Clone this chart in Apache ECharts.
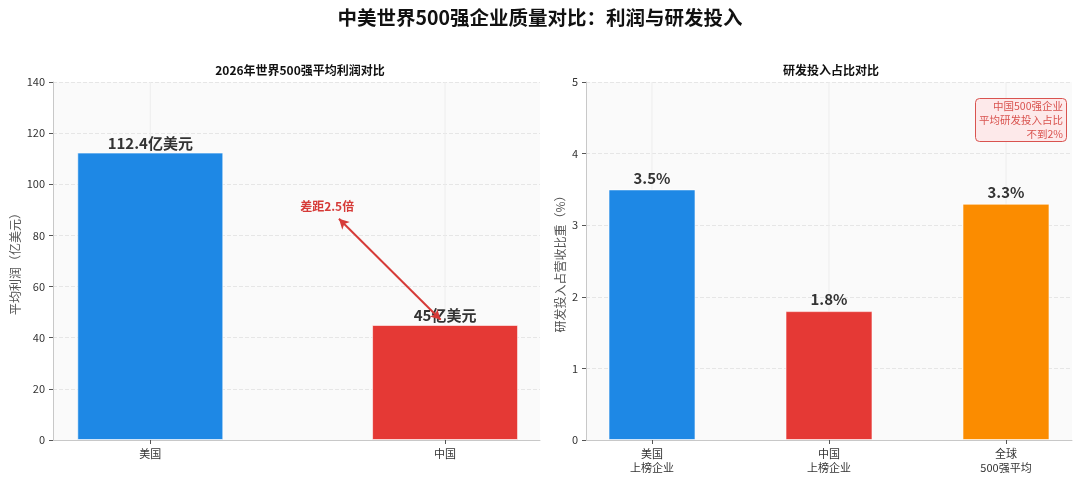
<!DOCTYPE html>
<html>
<head>
<meta charset="utf-8">
<script src="https://cdn.jsdelivr.net/npm/echarts@6/dist/echarts.min.js"></script>
<style>
  html, body { margin: 0; padding: 0; background: #fff; }
  #main { width: 1080px; height: 479px; }
</style>
</head>
<body>
<div id="main"></div>
<script>
// 左图：平均利润
const profitCats = ['美国', '中国'];
const profitVals = [112.4, 45];
const profitColors = ['#1E88E5', '#E53935'];
const profitTicks = [0, 20, 40, 60, 80, 100, 120, 140];

// 右图：研发投入占比
const rdCats = ['美国\n上榜企业', '中国\n上榜企业', '全球\n500强平均'];
const rdVals = [3.5, 1.8, 3.3];
const rdColors = ['#1E88E5', '#E53935', '#FB8C00'];
const rdTicks = [0, 1, 2, 3, 4, 5];

// 差距箭头 (数据坐标)
const gapArrow = [[0.985, 47], [0.64, 86.5]];
const gapText = '差距2.5倍';
const noteLines = ['中国500强企业', '平均研发投入占比', '不到2%'];

const FONT = '"Noto Sans CJK SC", "Noto Sans", sans-serif';
const chart = echarts.init(document.getElementById('main'));

function xAxisOf(idx, cats, min, max) {
  const pos = cats.map((c, i) => i);
  return {
    type: 'value', gridIndex: idx, min: min, max: max,
    axisLine: { show: true, onZero: false, lineStyle: { color: '#c8c8c8' } },
    axisTick: { show: true, customValues: pos, length: 4, lineStyle: { color: '#555' } },
    axisLabel: {
      customValues: pos, color: '#333', fontSize: 11, lineHeight: 14, margin: 7,
      formatter: v => cats[Math.round(v)] || ''
    },
    splitLine: { show: false }
  };
}

function yAxisOf(idx, ticks, name) {
  return {
    type: 'value', gridIndex: idx, min: 0, max: ticks[ticks.length - 1],
    interval: ticks[1] - ticks[0],
    name: name, nameLocation: 'middle', nameGap: idx === 0 ? 32 : 20,
    nameTextStyle: { color: '#555', fontSize: 12, fontFamily: FONT },
    axisLine: { show: true, onZero: false, lineStyle: { color: '#c8c8c8' } },
    axisTick: { show: true, length: 4, lineStyle: { color: '#555' } },
    axisLabel: { color: '#333', fontSize: 11, margin: 8 },
    splitLine: { show: true, lineStyle: { color: '#e6e6e6', type: 'dashed' } }
  };
}

// 竖向网格线（每个类别位置一条），放在柱子下面
function vLineSeries(idx, cats, top) {
  return {
    type: 'custom', xAxisIndex: idx, yAxisIndex: idx, silent: true, z: 1,
    data: cats.map((c, i) => [i, top]),
    renderItem: (params, api) => {
      const p0 = api.coord([api.value(0), 0]);
      const p1 = api.coord([api.value(0), api.value(1)]);
      return {
        type: 'line',
        shape: { x1: p0[0], y1: p0[1], x2: p1[0], y2: p1[1] },
        style: { stroke: '#ededed', lineWidth: 1 }
      };
    }
  };
}

chart.setOption({
  backgroundColor: '#fff',
  textStyle: { fontFamily: FONT },
  title: [
    { text: '中美世界500强企业质量对比：利润与研发投入', left: 'center', top: 3,
      textStyle: { fontSize: 19.5, fontWeight: 'bold', color: '#111', fontFamily: FONT } },
    { text: '2026年世界500强平均利润对比', left: 295, top: 59, textAlign: 'center',
      textStyle: { fontSize: 12, fontWeight: 'bold', color: '#111', fontFamily: FONT } },
    { text: '研发投入占比对比', left: 826, top: 59, textAlign: 'center',
      textStyle: { fontSize: 12, fontWeight: 'bold', color: '#111', fontFamily: FONT } },
    { // 右上角注释框
      text: noteLines.map(s => '{r|' + s + '}').join('\n'),
      right: 13, top: 96, padding: [3, 4],
      backgroundColor: '#fde9ea', borderColor: '#d9534f', borderWidth: 1, borderRadius: 4,
      textStyle: {
        fontSize: 10.5, color: '#d9534f', fontWeight: 'normal', fontFamily: FONT,
        rich: { r: { align: 'right', fontSize: 10.5, lineHeight: 14, color: '#d9534f', fontFamily: FONT } }
      }
    }
  ],
  grid: [
    { left: 53, right: 540, top: 82, bottom: 39, show: true, backgroundColor: '#fafafa', borderWidth: 0 },
    { left: 586, right: 8, top: 82, bottom: 39, show: true, backgroundColor: '#fafafa', borderWidth: 0 }
  ],
  xAxis: [
    xAxisOf(0, profitCats, -0.33, 1.322),
    xAxisOf(1, rdCats, -0.373, 2.373)
  ],
  yAxis: [
    yAxisOf(0, profitTicks, '平均利润（亿美元）'),
    yAxisOf(1, rdTicks, '研发投入占营收比重（%）')
  ],
  series: [
    vLineSeries(0, profitCats, profitTicks[profitTicks.length - 1]),
    vLineSeries(1, rdCats, rdTicks[rdTicks.length - 1]),
    {
      type: 'bar', xAxisIndex: 0, yAxisIndex: 0, barWidth: 146,
      data: profitVals.map((v, i) => ({ value: [i, v], itemStyle: { color: profitColors[i] } })),
      itemStyle: { borderColor: 'rgba(255,255,255,0.6)', borderWidth: 1 },
      label: { show: true, position: 'top', distance: 2, fontSize: 15, fontWeight: 'bold', color: '#333',
        formatter: p => p.value[1] + '亿美元' },
      z: 3
    },
    {
      type: 'line', xAxisIndex: 0, yAxisIndex: 0, data: [], silent: true,
      markLine: {
        silent: true, symbol: ['arrow', 'arrow'], symbolSize: [8, 10],
        lineStyle: { color: '#d63b38', width: 2, type: 'solid' },
        label: { show: false },
        data: [[{ coord: gapArrow[0] }, { coord: gapArrow[1] }]]
      },
      markPoint: {
        silent: true, symbol: 'circle', symbolSize: 0,
        label: { show: true, formatter: gapText, color: '#d63b38', fontSize: 12, fontWeight: 'bold',
          position: 'inside', fontFamily: FONT },
        data: [{ coord: [0.6, 91.5] }]
      },
      z: 5
    },
    {
      type: 'bar', xAxisIndex: 1, yAxisIndex: 1, barWidth: 87,
      data: rdVals.map((v, i) => ({ value: [i, v], itemStyle: { color: rdColors[i] } })),
      itemStyle: { borderColor: 'rgba(255,255,255,0.6)', borderWidth: 1 },
      label: { show: true, position: 'top', distance: 4, fontSize: 15, fontWeight: 'bold', color: '#333',
        formatter: p => p.value[1] + '%' },
      z: 3
    }
  ]
});
</script>
</body>
</html>
